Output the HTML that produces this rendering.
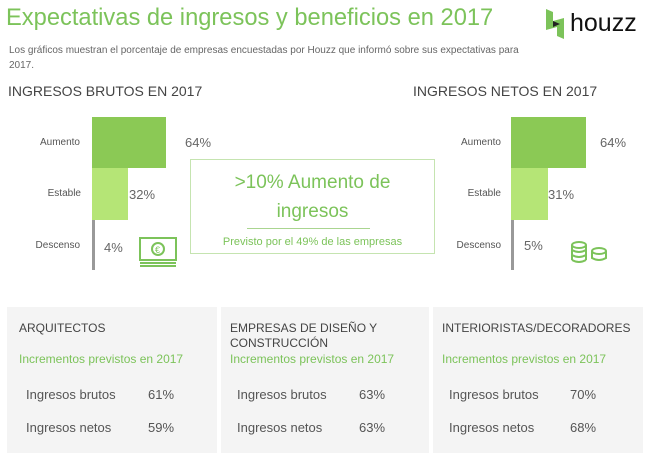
<!DOCTYPE html><html><head><style>
body{margin:0;width:650px;height:455px;background:#fff;font-family:"Liberation Sans",sans-serif;position:relative;overflow:hidden}
div,span{position:absolute}
.g{color:#7cc35a}
.lab{font-size:10px;color:#555;text-align:right;width:70px}
.pct{font-size:13px;color:#666}
.pan{background:#f4f4f4;top:307px;height:146px}
.h{font-size:12px;color:#444;left:12px;top:14px;line-height:15px}
.sub{font-size:12px;color:#7cc35a;left:12px;top:45px}
.r{font-size:13px;color:#555}
</style></head><body>
<div class="g" style="left:6px;top:5px;font-size:23.7px;white-space:nowrap">Expectativas de ingresos y beneficios en 2017</div>
<svg style="position:absolute;left:546px;top:9px" width="22" height="30"><path d="M0 0L7 3V12L18 9V30L11 27V18L0 21Z" fill="#7cc35a"/><path d="M7 12L14 15L7 18Z" fill="#222"/></svg>
<div style="left:570px;top:9px;font-size:25px;color:#111">houzz</div>
<div style="left:9px;top:43px;font-size:10px;color:#666;line-height:15px;width:560px">Los gráficos muestran el porcentaje de empresas encuestadas por Houzz que informó sobre sus expectativas para<br>2017.</div>
<div style="left:8px;top:83px;font-size:14px;color:#444">INGRESOS BRUTOS EN 2017</div>
<div style="left:413px;top:83px;font-size:14px;color:#444">INGRESOS NETOS EN 2017</div>
<div style="left:92px;top:117px;width:74px;height:51px;background:#8bc955"></div>
<div style="left:92px;top:168px;width:36px;height:52px;background:#b5e576"></div>
<div style="left:92px;top:220px;width:3px;height:50px;background:#999"></div>
<div class="lab" style="left:10px;top:137px">Aumento</div>
<div class="lab" style="left:11px;top:188px">Estable</div>
<div class="lab" style="left:10px;top:240px">Descenso</div>
<div class="pct" style="left:185px;top:135px">64%</div>
<div class="pct" style="left:129px;top:187px">32%</div>
<div class="pct" style="left:104px;top:240px">4%</div>
<svg style="position:absolute;left:138px;top:236px" width="42" height="32"><rect x="2" y="2" width="36" height="22" fill="none" stroke="#7cc35a" stroke-width="2"/><circle cx="20" cy="13" r="6" fill="none" stroke="#7cc35a" stroke-width="2"/><text x="17" y="17" font-size="9" fill="#7cc35a">€</text><path d="M2 27H38M2 30H38" stroke="#7cc35a" stroke-width="2"/></svg>
<div style="left:511px;top:117px;width:75px;height:51px;background:#8bc955"></div>
<div style="left:511px;top:168px;width:37px;height:52px;background:#b5e576"></div>
<div style="left:511px;top:220px;width:3px;height:50px;background:#999"></div>
<div class="lab" style="left:431px;top:137px">Aumento</div>
<div class="lab" style="left:431px;top:188px">Estable</div>
<div class="lab" style="left:431px;top:240px">Descenso</div>
<div class="pct" style="left:600px;top:135px">64%</div>
<div class="pct" style="left:548px;top:187px">31%</div>
<div class="pct" style="left:524px;top:238px">5%</div>
<svg style="position:absolute;left:570px;top:240px" width="40" height="24"><g fill="none" stroke="#7cc35a" stroke-width="2"><ellipse cx="9" cy="5" rx="7" ry="3"/><path d="M2 5V20M16 5V20M2 10Q9 14 16 10M2 15Q9 19 16 15M2 20Q9 24 16 20"/><ellipse cx="29" cy="11" rx="7" ry="3"/><path d="M22 11V18Q29 22 36 18V11"/></g></svg>
<div style="left:190px;top:159px;width:245px;height:95px;border:1px solid #c5e4b0;box-sizing:border-box"></div>
<div class="g" style="left:190px;top:168px;width:245px;text-align:center;font-size:19px;line-height:29px">&gt;10% Aumento de<br>ingresos</div>
<div style="left:247px;top:228px;width:123px;height:1px;background:#aad590"></div>
<div class="g" style="left:190px;top:236px;width:245px;text-align:center;font-size:11px">Previsto por el 49% de las empresas</div>
<div class="pan" style="left:7px;width:210px"><div class="h">ARQUITECTOS</div><div class="sub">Incrementos previstos en 2017</div>
<div class="r" style="left:19px;top:80px">Ingresos brutos</div><div class="r" style="left:141px;top:80px">61%</div>
<div class="r" style="left:19px;top:113px">Ingresos netos</div><div class="r" style="left:141px;top:113px">59%</div></div>
<div class="pan" style="left:221px;width:208px"><div class="h" style="left:9px">EMPRESAS DE DISEÑO Y<br>CONSTRUCCIÓN</div><div class="sub" style="left:9px">Incrementos previstos en 2017</div>
<div class="r" style="left:16px;top:80px">Ingresos brutos</div><div class="r" style="left:138px;top:80px">63%</div>
<div class="r" style="left:16px;top:113px">Ingresos netos</div><div class="r" style="left:138px;top:113px">63%</div></div>
<div class="pan" style="left:433px;width:210px"><div class="h" style="left:9px">INTERIORISTAS/DECORADORES</div><div class="sub" style="left:9px">Incrementos previstos en 2017</div>
<div class="r" style="left:16px;top:80px">Ingresos brutos</div><div class="r" style="left:137px;top:80px">70%</div>
<div class="r" style="left:16px;top:113px">Ingresos netos</div><div class="r" style="left:137px;top:113px">68%</div></div>
</body></html>
